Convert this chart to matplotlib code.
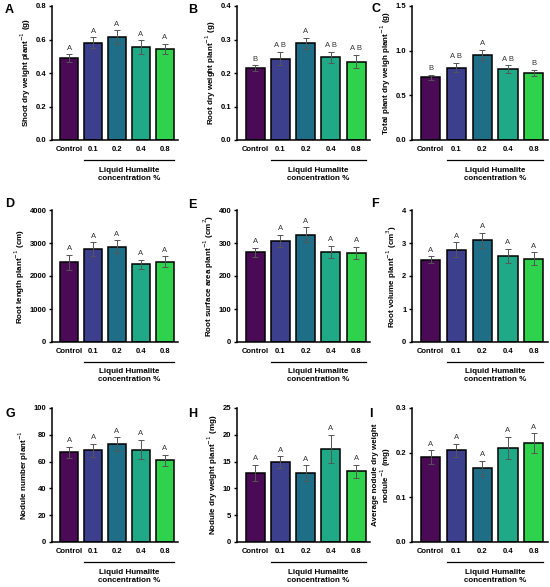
import matplotlib
matplotlib.use('Agg')
from matplotlib import pyplot as plt
import matplotlib.transforms as mtransforms

plt.rcParams['font.family'] = ['Liberation Sans', 'DejaVu Sans']

groups = ['Control', '0.1', '0.2', '0.4', '0.8']
colors = ['#4b0a55', '#3c3f8c', '#1e6e88', '#1fa987', '#2fd24c']

shoot_dw = [0.49, 0.58, 0.615, 0.555, 0.545]
shoot_err = [0.022, 0.032, 0.04, 0.04, 0.03]
shoot_let = ['A', 'A', 'A', 'A', 'A']

root_dw = [0.215, 0.243, 0.289, 0.247, 0.234]
root_err = [0.008, 0.02, 0.016, 0.016, 0.02]
root_let = ['B', 'A B', 'A', 'A B', 'A B']

total_dw = [0.70, 0.81, 0.95, 0.795, 0.75]
total_err = [0.03, 0.05, 0.06, 0.04, 0.035]
total_let = ['B', 'A B', 'A', 'A B', 'B']

root_len = [2420, 2820, 2890, 2350, 2430]
root_len_err = [230, 200, 190, 150, 170]

root_area = [272, 306, 325, 274, 271]
root_area_err = [13, 18, 22, 18, 18]

root_vol = [2.5, 2.8, 3.08, 2.6, 2.52]
root_vol_err = [0.1, 0.22, 0.22, 0.22, 0.2]

nod_num = [67, 68.5, 73, 69, 61]
nod_num_err = [4, 5, 5, 7, 4]

nod_dw = [12.9, 14.9, 12.8, 17.4, 13.2]
nod_dw_err = [1.5, 1.1, 1.5, 2.6, 1.2]

avg_nod = [0.19, 0.205, 0.165, 0.21, 0.221]
avg_nod_err = [0.015, 0.015, 0.017, 0.025, 0.022]

all_a = ['A'] * 5

panels = [
    ('A', shoot_dw, shoot_err, shoot_let, 'Shoot dry weight plant$^{-1}$ (g)', [0, 0.2, 0.4, 0.6, 0.8], '{:.1f}'),
    ('B', root_dw, root_err, root_let, 'Root dry weight plant$^{-1}$ (g)', [0, 0.1, 0.2, 0.3, 0.4], '{:.1f}'),
    ('C', total_dw, total_err, total_let, 'Total plant dry weigh plant$^{-1}$ (g)', [0, 0.5, 1.0, 1.5], '{:.1f}'),
    ('D', root_len, root_len_err, all_a, 'Root length plant$^{-1}$ (cm)', [0, 1000, 2000, 3000, 4000], '{:.0f}'),
    ('E', root_area, root_area_err, all_a, 'Root surface area plant$^{-1}$ (cm$^{2}$)', [0, 100, 200, 300, 400], '{:.0f}'),
    ('F', root_vol, root_vol_err, all_a, 'Root volume plant$^{-1}$ (cm$^{3}$)', [0, 1, 2, 3, 4], '{:.0f}'),
    ('G', nod_num, nod_num_err, all_a, 'Nodule number plant$^{-1}$', [0, 20, 40, 60, 80, 100], '{:.0f}'),
    ('H', nod_dw, nod_dw_err, all_a, 'Nodule dry weight plant$^{-1}$ (mg)', [0, 5, 10, 15, 20, 25], '{:.0f}'),
    ('I', avg_nod, avg_nod_err, all_a, 'Average nodule dry weight\nnodule$^{-1}$ (mg)', [0, 0.1, 0.2, 0.3], '{:.1f}'),
]

W, H = 550, 587
fig = plt.figure(figsize=(W / 100, H / 100), dpi=100)

cols = [(52, 178), (237, 370), (412, 548)]
rows = [(6, 140), (210, 342), (408, 542)]
letter_pos = [(5, 10), (188, 10), (371, 9),
              (5, 204), (188, 205), (371, 204),
              (5, 414), (188, 414), (369, 414)]

x = list(range(len(groups)))
for i, (tag, vals, errs, lets, ylab, yt, fmt) in enumerate(panels):
    r, c = divmod(i, 3)
    x0, x1 = cols[c]
    y0, y1 = rows[r]
    ax = fig.add_axes([x0 / W, 1 - y1 / H, (x1 - x0) / W, (y1 - y0) / H])
    ax.bar(x, vals, width=0.75, color=colors, edgecolor='black', linewidth=1.1, zorder=2)
    ax.errorbar(x, vals, yerr=errs, fmt='none', ecolor='#555555', elinewidth=0.7,
                capsize=2.2, capthick=0.7, zorder=3)
    top = yt[-1]
    for xi, v, e, l in zip(x, vals, errs, lets):
        ax.text(xi, v + e + top * 0.02, l, ha='center', va='bottom', fontsize=5.5, color='#333333')
    ax.set_xlim(-0.72, 4.55)
    ax.set_ylim(0, top)
    ax.set_yticks(yt)
    ax.set_yticklabels([fmt.format(t) for t in yt], fontsize=5.5, fontweight='bold')
    ax.set_xticks(x)
    ax.set_xticklabels(groups, fontsize=5.5, fontweight='bold')
    ax.tick_params(axis='x', length=0, pad=4)
    ax.tick_params(axis='y', length=2.5, width=1, pad=1.5)
    ax.spines['top'].set_visible(False)
    ax.spines['right'].set_visible(False)
    ax.spines['left'].set_linewidth(1.1)
    ax.spines['bottom'].set_linewidth(1.1)
    ax.set_ylabel(ylab, fontsize=5.8, fontweight='bold', labelpad=2, linespacing=1.0)
    trans = mtransforms.blended_transform_factory(ax.transData, ax.transAxes)
    ax.plot([0.625, 4.375], [-0.15, -0.15], color='black', lw=0.9, transform=trans, clip_on=False)
    ax.text(2.5, -0.2, 'Liquid Humalite\nconcentration %', transform=trans, ha='center', va='top',
            fontsize=5.8, fontweight='bold', linespacing=1.15)
    lx, ly = letter_pos[i]
    fig.text(lx / W, 1 - ly / H, tag, fontsize=9, fontweight='bold', ha='left', va='center')

fig.savefig('out.png', dpi=100)
